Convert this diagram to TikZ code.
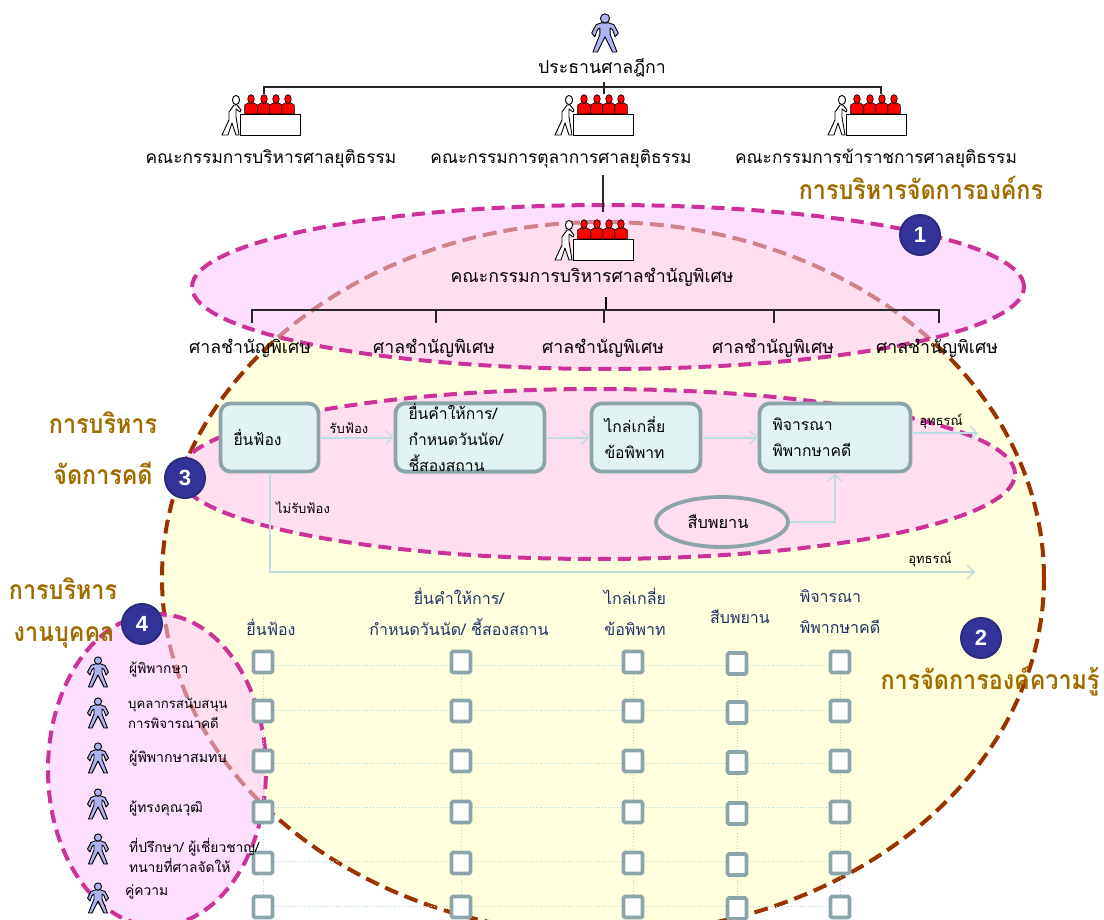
\documentclass[tikz,border=0pt]{standalone}
\usepackage{fontspec}
\usepackage{xcolor}
\usetikzlibrary{shapes.geometric,arrows.meta,calc}
\newfontfamily\thaifont[Script=Thai]{Loma}
\newfontfamily\titlefont[Script=Thai,FakeStretch=0.88]{Loma}
\newfontfamily\numfont{Liberation Sans}
\definecolor{brownring}{HTML}{993300}
\definecolor{pinkring}{HTML}{CC3399}
\definecolor{pinkfill}{HTML}{FFC4FF}
\definecolor{yellowfill}{HTML}{FFFFDD}
\definecolor{boxline}{HTML}{8CA5AA}
\definecolor{boxfill}{HTML}{E2F3F3}
\definecolor{flowline}{HTML}{BEDDE2}
\definecolor{gridblue}{HTML}{A8D8E0}
\definecolor{titlebrown}{HTML}{A06C00}
\definecolor{headblue}{HTML}{1F3368}
\definecolor{badge}{HTML}{333399}
\definecolor{badgeedge}{HTML}{2A2C7C}
\definecolor{personblue}{HTML}{AEB4F2}
\tikzset{
  bigring/.style={draw=brownring,line width=4pt,dash pattern=on 14pt off 7pt,fill=yellowfill},
  ringfill/.style={fill=pinkfill,fill opacity=.55},
  ringline/.style={draw=pinkring,line width=4pt,dash pattern=on 13pt off 7pt},
  orgline/.style={draw=black!85,line width=1.1pt},
  lbl/.style={inner sep=0pt,font=\thaifont\fontsize{17.7}{21}\selectfont},
  boardlbl/.style={inner sep=0pt,font=\thaifont\fontsize{17.3}{21}\selectfont},
  smalllbl/.style={inner sep=0pt,font=\thaifont\fontsize{13.8}{20}\selectfont,anchor=west,align=left},
  flowlbl/.style={inner sep=0pt,font=\thaifont\fontsize{13}{16}\selectfont},
  headlbl/.style={inner sep=0pt,text=headblue,font=\thaifont\fontsize{16}{31}\selectfont,align=center},
  titlelbl/.style={inner sep=0pt,text=titlebrown,font=\titlefont\bfseries\fontsize{26.5}{30}\selectfont},
  procbox/.style={draw=boxline,fill=boxfill,line width=3.8pt,rounded corners=10pt,font=\thaifont\fontsize{15.7}{26}\selectfont,align=left,inner xsep=13pt,inner ysep=0pt,minimum height=68pt},
  witness/.style={ellipse,draw=boxline,line width=3.8pt,inner sep=0pt,minimum width=132pt,minimum height=50pt},
  flow/.style={draw=flowline,line width=2pt,-{Straight Barb[length=7pt,width=14pt,line width=1.4pt]}},
  cell/.style={draw=boxline,fill=white,line width=3.8pt,rounded corners=1.5pt,minimum width=19pt,minimum height=21pt,inner sep=0pt},
  gridline/.style={draw=gridblue,line width=.9pt,dotted},
  numbadge/.style={circle,fill=badge,draw=badgeedge,line width=2pt,minimum size=40pt,inner sep=0pt,text=white,font=\numfont\bfseries\fontsize{22}{24}\selectfont},
  manpic/.pic={
    \draw[fill=personblue,draw=black,line width=.9pt,line join=round]
      (-3,-8)--(3,-8)--(7,-6.5)--(10.5,0)--(8,3)--(6,-2.5)--(4,-4)--(4,1)--(9.5,15)--(6,15)--(0,3)--(-6,15)--(-9.5,15)--(-4,1)--(-4,-4)--(-6,-2.5)--(-8,3)--(-10.5,0)--(-7,-6.5)--cycle;
    \draw[fill=personblue,draw=black,line width=.9pt] (0,-11.5) circle[radius=3.6pt];
  },
  cmtepic/.pic={
    \foreach \u in {11,24,36,48}{
      \begin{scope}[shift={(\u,0)}]
        \draw[fill=red,draw=black,line width=.6pt] (-6.3,0)--(-6.3,-9)--(-3,-11)--(3,-11)--(6.3,-9)--(6.3,0)--cycle;
        \draw[fill=red,draw=black,line width=.6pt] (0,-15) ellipse[x radius=3.3pt,y radius=4.4pt];
      \end{scope}
    }
    \draw[fill=white,draw=black,line width=.9pt,line join=round]
      (-6,-9)--(-3,-9)--(1,-4)--(0,-2)--(-4,-5)--(-4,3)--(-1,21)--(-4,21)--(-8,9)--(-12,21)--(-18,21)--(-11,6)--(-11,-2)--cycle;
    \draw[fill=white,draw=black,line width=.9pt] (-4,-14) ellipse[x radius=3.6pt,y radius=4.6pt];
    \draw[fill=white,draw=black,line width=.9pt] (0,0) rectangle (60,21);
  }
}
\begin{document}
\begin{tikzpicture}[x=1pt,y=-1pt]
\useasboundingbox (0,0) rectangle (1104,920);
\begin{scope}
\clip (0,0) rectangle (1104,920);
% regions
\path[bigring] (603,578) ellipse[x radius=441pt,y radius=356pt];
\fill[ringfill] (608,287) ellipse[x radius=416pt,y radius=82pt];
\draw[ringline] (608,287) ellipse[x radius=416pt,y radius=82pt];
\fill[ringfill] (597,474) ellipse[x radius=418pt,y radius=85pt];
\draw[ringline] (597,474) ellipse[x radius=418pt,y radius=85pt];
\fill[ringfill] (157,770) ellipse[x radius=109pt,y radius=156pt];
\draw[ringline] (157,770) ellipse[x radius=109pt,y radius=156pt];

% top of the chart
\pic at (605,33) [scale=1.27] {manpic};
\node[lbl] (chief) at (602,68) {ประธานศาลฎีกา};
\pic at (240,114) {cmtepic};
\pic at (573,114) {cmtepic};
\pic at (846,114) {cmtepic};
\pic at (573,239) {cmtepic};
\node[boardlbl] (board1) at (271,158.5) {คณะกรรมการบริหารศาลยุติธรรม};
\node[boardlbl] (board2) at (561,158.5) {คณะกรรมการตุลาการศาลยุติธรรม};
\node[boardlbl] (board3) at (876,158.5) {คณะกรรมการข้าราชการศาลยุติธรรม};
\node[lbl] (special) at (592,277) {คณะกรรมการบริหารศาลชำนัญพิเศษ};
\node[lbl] (court1) at (250,348) {ศาลชำนัญพิเศษ};
\node[lbl] (court2) at (434,348) {ศาลชำนัญพิเศษ};
\node[lbl] (court3) at (603,348) {ศาลชำนัญพิเศษ};
\node[lbl] (court4) at (773,348) {ศาลชำนัญพิเศษ};
\node[lbl] (court5) at (937,348) {ศาลชำนัญพิเศษ};

\coordinate (chiefdrop) at (604,82);
\coordinate (barmid) at (604,87);
\coordinate (barL) at (264,87);
\coordinate (barR) at (881,87);
\coordinate (tickL) at (264,94);
\coordinate (tickM) at (604,94);
\coordinate (tickR) at (881,94);
\draw[orgline] (chiefdrop)--(tickM);
\draw[orgline] (tickL)--(barL)--(barR)--(tickR);
\coordinate (linkA) at (603,175);
\coordinate (linkB) at (603,212);
\draw[orgline] (linkA)--(linkB);
\coordinate (stem) at (606,297);
\coordinate (stemb) at (606,310);
\draw[draw=black,line width=2pt] (stem)--(stemb);
\coordinate (c1t) at (252,310);\coordinate (c1b) at (252,323);
\coordinate (c2t) at (436,310);\coordinate (c2b) at (436,323);
\coordinate (c3t) at (604,310);\coordinate (c3b) at (604,323);
\coordinate (c4t) at (774,310);\coordinate (c4b) at (774,323);
\coordinate (c5t) at (939,310);\coordinate (c5b) at (939,323);
\draw[orgline] (c1b)--(c1t)--(c5t)--(c5b);
\draw[orgline] (c2t)--(c2b);
\draw[orgline] (c3t)--(c3b);
\draw[orgline] (c4t)--(c4b);

% process
\node[procbox,text width=72pt] (file) at (269.5,437.5) {ยื่นฟ้อง};
\node[procbox,text width=123pt] (answer) at (470,437.5) {ยื่นคำให้การ/\\กำหนดวันนัด/\\ชี้สองสถาน};
\node[procbox,text width=83pt] (mediate) at (646,437.5) {ไกล่เกลี่ย\\ข้อพิพาท};
\node[procbox,text width=125pt] (trial) at (835,437.5) {พิจารณา\\พิพากษาคดี};
\node[witness] (witness) at (722,522) {};
\node[inner sep=0pt,font=\thaifont\fontsize{16.3}{18}\selectfont] (wlabel) at (718,522) {สืบพยาน};
\coordinate (appeal1) at (978,433);
\coordinate (appeal2) at (975,572);
\draw[flow] (file.east)--(answer.west);
\draw[flow] (answer.east)--(mediate.west);
\draw[flow] (mediate.east)--(trial.west);
\draw[flow] (trial.east |- appeal1)--(appeal1);
\draw[flow] (witness.east)-|(trial.south);
\draw[flow] (file.south)--(file.south |- appeal2)--(appeal2);
\node[flowlbl] (acc) at (349,428) {รับฟ้อง};
\node[flowlbl] (rej) at (303,508) {ไม่รับฟ้อง};
\node[flowlbl] (ap1) at (941,421) {อุทธรณ์};
\node[flowlbl] (ap2) at (930,559) {อุทธรณ์};

% matrix headers
\node[headlbl] (h1) at (271,627) {ยื่นฟ้อง};
\node[headlbl] (h2) at (459,612) {ยื่นคำให้การ/\\กำหนดวันนัด/ ชี้สองสถาน};
\node[headlbl] (h3) at (635,612) {ไกล่เกลี่ย\\ข้อพิพาท};
\node[headlbl] (h4) at (740,617) {สืบพยาน};
\node[headlbl,align=left] (h5) at (840,612) {พิจารณา\\พิพากษาคดี};

% matrix grid
\foreach \r/\ly in {1/665,2/710,3/763,4/807,5/861,6/906}{
  \coordinate (hl\r) at (263,\ly);
  \coordinate (hr\r) at (840,\ly);
  \draw[gridline] (hl\r)--(hr\r);
}
\foreach \c/\xx/\dy in {1/263/0,2/461/0,3/633/0,4/737/1.5,5/840/0}{
  \coordinate (vt\c) at (\xx,662);
  \coordinate (vb\c) at (\xx,920);
  \draw[gridline] (vt\c)--(vb\c);
  \foreach \r/\yy in {1/662,2/711,3/761,4/812,5/863,6/907}{
    \node[cell] (s\c\r) at (\xx,\yy+\dy) {};
  }
}

% people
\foreach \yy in {672,713,758,804,849,898}{\pic at (98,\yy) {manpic};}
\node[smalllbl] (p1) at (129,670) {ผู้พิพากษา};
\node[smalllbl,font=\thaifont\fontsize{13.2}{20}\selectfont] (p2) at (128,713) {บุคลากรสนับสนุน\\การพิจารณาคดี};
\node[smalllbl,font=\thaifont\fontsize{14.2}{20}\selectfont] (p3) at (129,758) {ผู้พิพากษาสมทบ};
\node[smalllbl] (p4) at (129,809) {ผู้ทรงคุณวุฒิ};
\node[smalllbl] (p5) at (129,855) {ที่ปรึกษา/ ผู้เชี่ยวชาญ/\\ทนายที่ศาลจัดให้};
\node[smalllbl] (p6) at (125,892) {คู่ความ};

% titles
\node[titlelbl] (t1) at (921,188) {การบริหารจัดการองค์กร};
\node[titlelbl] (t2a) at (103,423) {การบริหาร};
\node[titlelbl] (t2b) at (103,473) {จัดการคดี};
\node[titlelbl] (t3a) at (63,589) {การบริหาร};
\node[titlelbl] (t3b) at (64,638) {งานบุคคล};
\node[titlelbl] (t4) at (990,681) {การจัดการองค์ความรู้};

% badges
\node[numbadge] (b1) at (920,235) {1};
\node[numbadge] (b2) at (981,638) {2};
\node[numbadge] (b3) at (185,478) {3};
\node[numbadge] (b4) at (142,624) {4};
\end{scope}
\end{tikzpicture}
\end{document}
